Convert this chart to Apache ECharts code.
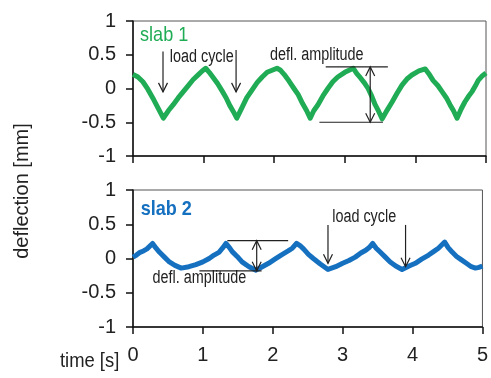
<!DOCTYPE html>
<html>
<head>
<meta charset="utf-8">
<script src="https://cdn.jsdelivr.net/npm/echarts@6/dist/echarts.min.js"></script>
<style>
  html, body { margin: 0; padding: 0; background: #fff; }
  #main { width: 491px; height: 378px; }
</style>
</head>
<body>
<div id="main"></div>
<script>
// time axis (s) and deflection (mm)
const timeTicks = [0, 1, 2, 3, 4, 5];
const deflTicks = [-1, -0.5, 0, 0.5, 1];

const slab1Time = [0.00, 0.07, 0.14, 0.21, 0.28, 0.35, 0.43, 0.50, 0.57, 0.64, 0.71, 0.78, 0.85, 0.93, 0.98, 1.03,
  1.08, 1.13, 1.20, 1.27, 1.32, 1.37, 1.42, 1.47, 1.54, 1.61, 1.68, 1.76, 1.83, 1.90, 1.97, 2.04,
  2.09, 2.14, 2.21, 2.28, 2.34, 2.40, 2.46, 2.51, 2.56, 2.62, 2.69, 2.76, 2.83, 2.90, 3.00, 3.06, 3.12,
  3.17, 3.22, 3.28, 3.33, 3.38, 3.43, 3.48, 3.53, 3.60, 3.67, 3.74, 3.81, 3.88, 3.95, 4.05, 4.14,
  4.19, 4.25, 4.32, 4.38, 4.44, 4.49, 4.54, 4.59, 4.65, 4.70, 4.75, 4.80, 4.85, 4.89, 4.95, 5.00];
const slab1Defl = [0.21, 0.17, 0.10, -0.01, -0.14, -0.28, -0.44, -0.33, -0.24, -0.14, -0.05, 0.04, 0.13, 0.21, 0.26, 0.30,
  0.24, 0.17, 0.07, -0.05, -0.14, -0.25, -0.34, -0.44, -0.29, -0.14, -0.03, 0.09, 0.17, 0.24, 0.27, 0.30,
  0.27, 0.21, 0.11, 0.00, -0.09, -0.22, -0.33, -0.44, -0.33, -0.24, -0.11, 0.00, 0.10, 0.17, 0.24, 0.27, 0.30,
  0.22, 0.16, 0.08, 0.00, -0.11, -0.24, -0.34, -0.45, -0.32, -0.20, -0.07, 0.05, 0.14, 0.20, 0.26, 0.29,
  0.22, 0.12, 0.04, -0.05, -0.14, -0.24, -0.33, -0.44, -0.30, -0.20, -0.12, -0.05, 0.04, 0.12, 0.19, 0.23];

const slab2Time = [0.00, 0.05, 0.10, 0.15, 0.20, 0.28, 0.33, 0.38, 0.45, 0.52, 0.60, 0.69, 0.80, 0.90, 1.00, 1.09,
  1.16, 1.23, 1.28, 1.33, 1.38, 1.42, 1.49, 1.56, 1.66, 1.76, 1.85, 1.94, 2.03, 2.12, 2.22, 2.28, 2.34,
  2.40, 2.44, 2.51, 2.58, 2.68, 2.79, 2.90, 3.00, 3.09, 3.18, 3.26, 3.33, 3.38, 3.43, 3.48, 3.54, 3.61,
  3.68, 3.76, 3.85, 3.95, 4.04, 4.13, 4.23, 4.30, 4.37, 4.46, 4.51, 4.57, 4.63, 4.70, 4.77, 4.84, 4.90,
  4.95, 5.00];
const slab2Defl = [0.02, 0.05, 0.09, 0.11, 0.14, 0.22, 0.15, 0.09, 0.02, -0.05, -0.10, -0.14, -0.12, -0.09, -0.05, 0.00,
  0.05, 0.09, 0.15, 0.22, 0.16, 0.10, 0.03, -0.05, -0.12, -0.17, -0.12, -0.07, -0.01, 0.05, 0.11, 0.15, 0.22,
  0.18, 0.14, 0.06, 0.00, -0.08, -0.16, -0.12, -0.07, -0.03, 0.02, 0.08, 0.12, 0.16, 0.22, 0.15, 0.09, 0.02,
  -0.05, -0.11, -0.16, -0.11, -0.07, -0.01, 0.05, 0.10, 0.15, 0.24, 0.16, 0.09, 0.03, -0.02, -0.07, -0.12, -0.14,
  -0.13, -0.11];

// annotations, in data units
const loadArrows1 = [[0.425, 0.55, -0.05], [1.46, 0.57, -0.05]];
const loadArrows2 = [[2.79, 0.49, -0.07], [3.90, 0.49, -0.12]];
const amplitude1 = { top: [2.73, 3.61, 0.32], bottom: [2.64, 3.54, -0.50], arrow: 3.36 };
const amplitude2 = { top: [1.35, 2.22, 0.26], bottom: [0.95, 1.84, -0.18], arrow: 1.77 };

const GREEN = '#1fac55';
const BLUE = '#1670c0';
const TICK_FONT = '"Liberation Sans", Arial, sans-serif';

const chart = echarts.init(document.getElementById('main'));

function pairs(ts, vs) {
  return ts.map((t, i) => [t, vs[i]]);
}

function xAxisFor(i, showLabels) {
  return {
    gridIndex: i, type: 'value',
    min: timeTicks[0], max: timeTicks[timeTicks.length - 1], interval: 1,
    axisLine: { show: true, onZero: false, lineStyle: { color: '#111', width: 1.5 } },
    axisTick: { show: true, length: 7, lineStyle: { color: '#111', width: 1.5 } },
    axisLabel: { show: showLabels, margin: 18, fontSize: 20, fontFamily: TICK_FONT, color: '#222' },
    splitLine: { show: false }
  };
}

function yAxisFor(i) {
  return {
    gridIndex: i, type: 'value',
    min: deflTicks[0], max: deflTicks[deflTicks.length - 1], interval: 0.5,
    axisLine: { show: true, onZero: false, lineStyle: { color: '#111', width: 1.5 } },
    axisTick: { show: true, length: 7, lineStyle: { color: '#111', width: 1.5 } },
    axisLabel: { margin: 17, fontSize: 20, fontFamily: TICK_FONT, color: '#222' },
    splitLine: { show: false }
  };
}

chart.setOption({
  animation: false,
  backgroundColor: '#fff',
  grid: [
    { left: 133, top: 21, width: 353, height: 135, show: true, borderColor: '#555', borderWidth: 1 },
    { left: 133, top: 190, width: 353, height: 137, show: true, borderColor: '#555', borderWidth: 1 }
  ],
  xAxis: [xAxisFor(0, false), xAxisFor(1, true)],
  yAxis: [yAxisFor(0), yAxisFor(1)],
  series: [
    {
      name: 'slab 1', type: 'line', xAxisIndex: 0, yAxisIndex: 0,
      data: pairs(slab1Time, slab1Defl), showSymbol: false,
      lineStyle: { color: GREEN, width: 5, join: 'round' }
    },
    {
      name: 'slab 2', type: 'line', xAxisIndex: 1, yAxisIndex: 1,
      data: pairs(slab2Time, slab2Defl), showSymbol: false,
      lineStyle: { color: BLUE, width: 5, join: 'round' }
    }
  ]
});

// annotation drawing, positioned through the chart's own scales
const px = (g, t, v) => chart.convertToPixel({ gridIndex: g }, [t, v]);
const ink = { stroke: '#222', lineWidth: 1.2 };
const gfx = [];

function line(a, b) {
  gfx.push({ type: 'line', z: 100, shape: { x1: a[0], y1: a[1], x2: b[0], y2: b[1] }, style: ink });
}
function head(p, dir) {
  // open V arrow head, dir = 1 pointing down, -1 pointing up
  gfx.push({ type: 'polyline', z: 100,
    shape: { points: [[p[0] - 4.5, p[1] - dir * 9], p, [p[0] + 4.5, p[1] - dir * 9]] },
    style: Object.assign({ fill: null }, ink) });
}
function downArrow(g, a) {
  const p1 = px(g, a[0], a[1]), p2 = px(g, a[0], a[2]);
  line(p1, p2); head(p2, 1);
}
function amplitude(g, amp) {
  const t1 = px(g, amp.top[0], amp.top[2]), t2 = px(g, amp.top[1], amp.top[2]);
  const b1 = px(g, amp.bottom[0], amp.bottom[2]), b2 = px(g, amp.bottom[1], amp.bottom[2]);
  line(t1, t2); line(b1, b2);
  const a1 = px(g, amp.arrow, amp.top[2]), a2 = px(g, amp.arrow, amp.bottom[2]);
  line(a1, a2); head(a1, -1); head(a2, 1);
}
// narrow look: regular font squeezed horizontally
function label(g, t, v, text, opts, sx) {
  const p = px(g, t, v);
  gfx.push({ type: 'text', z: 101, x: p[0], y: p[1], scaleX: sx || 0.8,
    style: Object.assign({ text: text, fill: '#222', font: '18px ' + TICK_FONT, align: 'left', verticalAlign: 'middle' }, opts || {}) });
}

loadArrows1.forEach(a => downArrow(0, a));
loadArrows2.forEach(a => downArrow(1, a));
amplitude(0, amplitude1);
amplitude(1, amplitude2);

label(0, 0.52, 0.47, 'load cycle');
label(0, 1.94, 0.50, 'defl. amplitude');
label(1, 0.28, -0.29, 'defl. amplitude');
label(1, 2.85, 0.61, 'load cycle');
label(0, 0.10, 0.79, 'slab 1', { fill: GREEN, font: '21px ' + TICK_FONT }, 0.86);
label(1, 0.11, 0.72, 'slab 2', { fill: BLUE, font: 'bold 21px ' + TICK_FONT }, 0.86);

gfx.push({ type: 'text', x: 60, y: 361, scaleX: 0.92,
  style: { text: 'time [s]', fill: '#222', font: '20px ' + TICK_FONT, align: 'left', verticalAlign: 'middle' } });
gfx.push({ type: 'text', x: 22, y: 191, rotation: Math.PI / 2,
  style: { text: 'deflection [mm]', fill: '#222', font: '20px ' + TICK_FONT, align: 'center', verticalAlign: 'middle' } });

chart.setOption({ graphic: gfx });
</script>
</body>
</html>
